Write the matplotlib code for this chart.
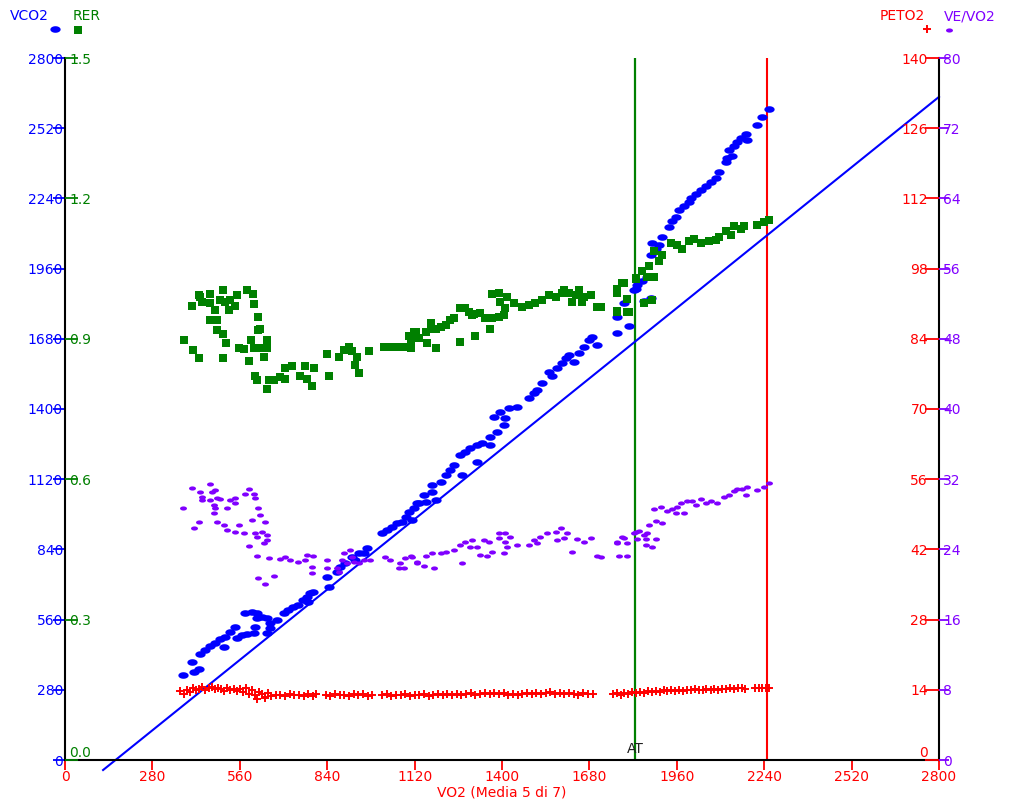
import numpy as np
import matplotlib
matplotlib.use("Agg")
import matplotlib.pyplot as plt
from matplotlib.path import Path
from matplotlib.lines import Line2D

plt.rcParams['font.family'] = ['DejaVu Sans']

# ---------------- data ----------------
vco2_x = [379, 406, 412, 428, 433, 449, 465, 481, 497, 508, 513, 529, 545, 551, 567, 577, 583, 599,
          604, 609, 615, 615, 631, 647, 647, 657, 657, 679, 700, 716, 732, 748, 764, 775, 780, 786,
          796, 839, 845, 871, 882, 898, 919, 930, 941, 957, 967, 1016, 1032, 1048, 1064, 1080, 1091,
          1101, 1112, 1117, 1128, 1133, 1149, 1155, 1176, 1176, 1187, 1203, 1219, 1235, 1245, 1267,
          1272, 1283, 1299, 1320, 1320, 1336, 1363, 1363, 1374, 1384, 1395, 1406, 1411, 1422, 1449,
          1486, 1502, 1513, 1529, 1550, 1561, 1577, 1593, 1604, 1614, 1630, 1646, 1662, 1678, 1689,
          1705, 1769, 1769, 1791, 1807, 1823, 1828, 1834, 1850, 1855, 1866, 1876, 1876, 1882, 1892,
          1903, 1914, 1935, 1946, 1956, 1967, 1983, 1999, 2005, 2021, 2037, 2053, 2069, 2085, 2096,
          2117, 2122, 2127, 2138, 2143, 2154, 2165, 2181, 2186, 2218, 2234, 2254]
vco2_y = [339, 392, 352, 363, 423, 439, 455, 468, 481, 452, 492, 512, 532, 485, 499, 585, 503, 592,
          505, 532, 585, 565, 572, 565, 505, 545, 525, 558, 585, 598, 609, 618, 638, 652, 632, 665,
          672, 731, 689, 751, 771, 784, 811, 798, 824, 824, 844, 904, 917, 931, 944, 951, 971,
          990, 957, 1004, 1024, 1024, 1057, 1030, 1070, 1097, 1037, 1110, 1137, 1157, 1177, 1217,
          1137, 1230, 1243, 1256, 1190, 1263, 1256, 1290, 1369, 1310, 1389, 1336, 1363, 1403, 1409,
          1443, 1462, 1476, 1502, 1549, 1532, 1562, 1582, 1602, 1615, 1589, 1622, 1649, 1675, 1688,
          1655, 1702, 1765, 1822, 1733, 1875, 1878, 1894, 1910, 1830, 1926, 1841, 2015, 2063, 2039,
          2055, 2087, 2127, 2151, 2167, 2192, 2208, 2224, 2240, 2256, 2272, 2288, 2304, 2320, 2344,
          2385, 2401, 2433, 2409, 2449, 2465, 2481, 2497, 2473, 2532, 2565, 2597]

rer_x = [382, 406, 409, 428, 428, 433, 438, 465, 465, 465, 481, 486, 486, 497, 505, 505, 505, 513,
         516, 524, 529, 545, 551, 556, 572, 583, 588, 597, 602, 604, 607, 609, 615, 617, 617, 620,
         626, 636, 647, 647, 647, 652, 668, 690, 706, 706, 727, 754, 770, 775, 791, 797, 839, 845,
         877, 893, 909, 919, 930, 935, 941, 973, 1021, 1042, 1064, 1090, 1101, 1107, 1107, 1117,
         1123, 1133, 1155, 1160, 1171, 1171, 1187, 1187, 1203, 1219, 1235, 1245, 1267, 1267, 1283,
         1294, 1304, 1310, 1313, 1331, 1347, 1363, 1368, 1368, 1390, 1390, 1395, 1406, 1411, 1417,
         1438, 1465, 1486, 1507, 1529, 1550, 1572, 1593, 1598, 1614, 1625, 1636, 1646, 1657, 1662,
         1684, 1705, 1716, 1769, 1769, 1769, 1769, 1785, 1791, 1801, 1801, 1801, 1807, 1828, 1828,
         1850, 1855, 1866, 1871, 1882, 1887, 1887, 1903, 1914, 1940, 1962, 1978, 1999, 2015, 2037,
         2063, 2085, 2096, 2117, 2133, 2143, 2165, 2176, 2218, 2240, 2256]
rer_y = [0.897, 0.970, 0.876, 0.994, 0.858, 0.990, 0.979, 0.996, 0.976, 0.940, 0.962, 0.940, 0.919,
         0.983, 1.004, 0.910, 0.860, 0.979, 0.892, 0.962, 0.983, 0.970, 0.994, 0.880, 0.878, 1.004,
         0.853, 0.897, 0.995, 0.880, 0.974, 0.821, 0.811, 0.947, 0.919, 0.880, 0.922, 0.862, 0.897,
         0.880, 0.793, 0.812, 0.812, 0.819, 0.837, 0.815, 0.841, 0.821, 0.841, 0.815, 0.799, 0.837,
         0.868, 0.821, 0.862, 0.876, 0.883, 0.873, 0.844, 0.862, 0.826, 0.875, 0.882, 0.883, 0.883,
         0.882, 0.905, 0.897, 0.880, 0.915, 0.915, 0.901, 0.915, 0.890, 0.922, 0.933, 0.922, 0.880,
         0.925, 0.930, 0.940, 0.944, 0.965, 0.894, 0.965, 0.958, 0.951, 0.954, 0.906, 0.956, 0.944,
         0.922, 0.944, 0.996, 0.997, 0.947, 0.979, 0.951, 0.965, 0.990, 0.976, 0.969, 0.972, 0.976,
         0.983, 0.994, 0.990, 0.997, 1.004, 0.997, 0.979, 0.994, 1.004, 0.979, 0.990, 0.994, 0.967,
         0.967, 0.997, 1.006, 0.959, 0.958, 1.019, 1.019, 0.986, 0.984, 0.957, 0.958, 1.029, 1.027,
         1.045, 0.976, 1.032, 1.056, 0.983, 1.032, 1.088, 1.066, 1.079, 1.105, 1.101, 1.092, 1.109,
         1.114, 1.105, 1.109, 1.112, 1.118, 1.131, 1.122, 1.140, 1.135, 1.140, 1.144, 1.150, 1.153]

peto2_x = [369, 380, 392, 400, 410, 420, 430, 440, 450, 460, 470, 480, 490, 500, 510, 520, 530, 540,
           550, 560, 570, 580, 590, 600, 610, 615, 620, 630, 640, 640, 650, 660, 675, 690, 705, 720,
           735, 750, 765, 780, 795, 805, 835, 850, 865, 880, 895, 910, 925, 940, 955, 970, 982,
           1015, 1030, 1045, 1060, 1075, 1090, 1105, 1120, 1135, 1150, 1165, 1180, 1195, 1210, 1225,
           1240, 1255, 1270, 1285, 1300, 1315, 1330, 1345, 1360, 1375, 1390, 1405, 1420, 1435, 1450,
           1465, 1480, 1495, 1510, 1525, 1540, 1555, 1570, 1585, 1600, 1615, 1630, 1645, 1660, 1675,
           1690, 1755, 1768, 1780, 1792, 1805, 1818, 1830, 1843, 1855, 1868, 1880, 1893, 1905, 1918,
           1930, 1943, 1955, 1968, 1980, 1993, 2005, 2018, 2030, 2043, 2055, 2068, 2080, 2093, 2105,
           2118, 2130, 2143, 2155, 2168, 2180, 2210, 2222, 2234, 2245, 2256]
peto2_y = [13.8, 13.2, 14.0, 13.6, 14.4, 13.9, 14.2, 14.5, 14.0, 14.3, 14.6, 14.1, 14.4, 14.2, 13.8,
           14.3, 14.0, 14.1, 13.7, 14.2, 13.5, 14.4, 13.2, 13.9, 12.9, 12.1, 13.6, 13.1, 12.5, 12.3,
           13.3, 12.8, 12.9, 13.0, 12.8, 13.1, 12.9, 13.0, 12.7, 13.1, 12.8, 13.2, 12.9, 12.8, 13.1,
           12.9, 13.0, 12.7, 13.1, 12.9, 13.2, 12.8, 13.0, 12.9, 13.1, 12.8, 13.0, 12.9, 13.1, 12.8,
           13.0, 12.9, 13.1, 12.8, 13.0, 13.2, 12.9, 13.1, 13.0, 13.2, 12.9, 13.1, 13.3, 13.0, 13.2,
           13.4, 13.1, 13.3, 13.2, 13.4, 13.0, 13.2, 13.0, 13.1, 13.3, 13.1, 13.4, 13.2, 13.3, 13.5,
           13.2, 13.4, 13.1, 13.3, 13.2, 13.0, 13.3, 13.1, 13.2, 13.1, 13.3, 13.0, 13.4, 13.2, 13.5,
           13.3, 13.6, 13.4, 13.7, 13.5, 13.8, 13.6, 13.9, 13.7, 13.9, 13.8, 14.0, 13.8, 14.0, 13.9,
           14.1, 13.9, 14.0, 14.1, 13.9, 14.2, 14.0, 14.2, 14.1, 14.3, 14.2, 14.4, 14.3, 14.2, 14.3,
           14.4, 14.3, 14.4, 14.4]

vevo2_x = [379, 406, 412, 428, 433, 438, 438, 463, 465, 470, 476, 476, 481, 481, 486, 486, 497, 508,
           519, 519, 529, 545, 545, 545, 556, 572, 577, 590, 591, 599, 604, 609, 609, 615, 615, 617,
           617, 625, 631, 636, 641, 641, 647, 647, 655, 668, 690, 706, 722, 748, 770, 775, 791, 791,
           796, 839, 839, 871, 877, 887, 893, 903, 914, 919, 925, 941, 957, 978, 1026, 1042, 1069,
           1074, 1085, 1090, 1107, 1112, 1128, 1128, 1149, 1155, 1176, 1181, 1203, 1219, 1245, 1267,
           1272, 1283, 1299, 1304, 1320, 1331, 1342, 1352, 1358, 1368, 1390, 1390, 1406, 1411, 1411,
           1417, 1427, 1449, 1486, 1502, 1513, 1523, 1545, 1572, 1577, 1588, 1598, 1609, 1625, 1641,
           1662, 1684, 1705, 1716, 1769, 1769, 1775, 1785, 1791, 1801, 1801, 1823, 1828, 1834, 1839,
           1855, 1860, 1860, 1866, 1871, 1882, 1887, 1892, 1892, 1908, 1914, 1930, 1946, 1956, 1962,
           1972, 1983, 1994, 2010, 2021, 2037, 2053, 2069, 2090, 2111, 2127, 2143, 2154, 2170, 2181,
           2186, 2218, 2240, 2256]
vevo2_y = [28.68, 30.96, 26.40, 27.16, 30.58, 30.01, 29.63, 31.45, 29.63, 30.58, 29.06, 28.18, 30.77,
           28.68, 29.82, 27.16, 29.70, 26.78, 28.68, 26.21, 29.63, 29.82, 29.25, 26.02, 26.78, 25.83,
           30.31, 24.38, 30.84, 27.35, 30.31, 29.82, 25.83, 25.45, 23.24, 28.68, 20.70, 27.92, 26.02,
           24.69, 27.16, 20.05, 25.64, 25.07, 22.98, 20.97, 22.87, 23.17, 22.79, 22.60, 22.79, 23.36,
           22.03, 21.35, 23.24, 22.79, 21.84, 21.84, 21.46, 22.79, 23.55, 22.41, 23.93, 23.17, 22.60,
           22.41, 22.79, 22.79, 23.17, 22.79, 21.92, 22.41, 21.84, 22.98, 23.24, 23.17, 22.41, 22.60,
           22.11, 23.24, 23.55, 21.84, 23.55, 23.74, 23.93, 24.50, 22.49, 24.88, 24.31, 25.07, 24.31,
           23.36, 25.07, 23.24, 24.88, 23.74, 25.26, 25.83, 23.55, 25.83, 24.88, 24.31, 25.45, 24.50,
           24.50, 25.07, 24.69, 25.45, 25.83, 26.02, 25.07, 26.40, 25.26, 25.83, 23.74, 25.15, 24.88,
           25.26, 23.24, 23.10, 24.88, 24.71, 23.24, 25.45, 25.30, 24.71, 23.24, 25.86, 26.02, 25.17,
           26.08, 25.62, 25.17, 24.48, 25.86, 26.77, 24.25, 28.61, 25.17, 27.23, 28.84, 27.00, 28.38,
           28.61, 28.15, 28.84, 29.30, 28.15, 29.53, 29.53, 29.07, 29.76, 29.30, 29.53, 29.30, 29.99,
           30.22, 30.68, 30.91, 30.91, 30.22, 31.14, 30.82, 31.14, 31.60]

ref_x = [122, 2800]
ref_y = [-40, 2645]

at_vo2 = 1826
end_vo2 = 2250

x_ticks = list(range(0, 2801, 280))
vco2_ticks = list(range(0, 2801, 280))
rer_ticks = [0.0, 0.3, 0.6, 0.9, 1.2, 1.5]
rer_labels = ['0.0', '0.3', '0.6', '0.9', '1.2', '1.5']
peto2_ticks = list(range(0, 141, 14))
vevo2_ticks = list(range(0, 81, 8))

# ---------------- style ----------------
BLUE = '#0000ff'
GREEN = '#008000'
RED = '#ff0000'
PURPLE = '#8000ff'
FS = 10
MS_BLUE, MS_GREEN, MS_RED, MS_PURPLE = 7.4, 5.6, 6.2, 5.0

theta = np.linspace(0, 2 * np.pi, 41)
ell_big = Path(np.column_stack([np.cos(theta), 0.64 * np.sin(theta)]))
ell_small = Path(np.column_stack([np.cos(theta), 0.6 * np.sin(theta)]))

W, H = 1015, 807
fig = plt.figure(figsize=(W / 100, H / 100), dpi=100)
x0, x1, y0, y1 = 65, 939, 58, 760
pos = [x0 / W, (H - y1) / H, (x1 - x0) / W, (y1 - y0) / H]

ax = fig.add_axes(pos)
ax.set_xlim(0, 2800)
ax.set_ylim(0, 2800)
ax.spines['top'].set_visible(False)
for s in ['left', 'bottom', 'right']:
    ax.spines[s].set_color('black')
    ax.spines[s].set_linewidth(1.5)

ax.set_xticks(x_ticks)
ax.set_xticklabels([str(v) for v in x_ticks])
ax.tick_params(axis='x', direction='out', length=7.2, width=1.3, color=RED,
               labelcolor=RED, labelsize=FS, pad=0)
ax.set_yticks(vco2_ticks)
ax.set_yticklabels([str(v) for v in vco2_ticks])
ax.tick_params(axis='y', direction='out', length=9, width=1.3, color=BLUE,
               labelcolor=BLUE, labelsize=FS, pad=-7.5)
ax.set_xlabel('VO2 (Media 5 di 7)', color=RED, fontsize=FS, labelpad=1)

# vertical markers
ax.axvline(at_vo2, color=GREEN, lw=1.6, zorder=1)
ax.axvline(end_vo2, color=RED, lw=1.5, zorder=1)
ax.annotate('AT', xy=(at_vo2, 0), xytext=(0, 3), textcoords='offset points',
            ha='center', va='bottom', fontsize=FS, color='#202020')

# reference line and VCO2
ax.plot(ref_x, ref_y, color=BLUE, lw=1.5, clip_on=False, zorder=2)
ax.plot(vco2_x, vco2_y, ls='none', marker=ell_big, ms=MS_BLUE, mew=0,
        color=BLUE, zorder=3)

# RER axis
ax_rer = fig.add_axes(pos, frameon=False)
ax_rer.patch.set_visible(False)
ax_rer.set_xlim(0, 2800)
ax_rer.set_ylim(0, 1.5)
ax_rer.xaxis.set_visible(False)
ax_rer.set_yticks(rer_ticks)
ax_rer.set_yticklabels(rer_labels)
ax_rer.tick_params(axis='y', direction='in', length=9, width=1.3, color=GREEN,
                   labelcolor=GREEN, labelsize=FS, pad=-3)
for lab in ax_rer.get_yticklabels():
    lab.set_horizontalalignment('left')
ax_rer.get_yticklabels()[0].set_verticalalignment('bottom')
ax_rer.plot(rer_x, rer_y, ls='none', marker='s', ms=MS_GREEN, mew=0, color=GREEN)

# PETO2 axis
ax_pet = fig.add_axes(pos, frameon=False)
ax_pet.patch.set_visible(False)
ax_pet.set_xlim(0, 2800)
ax_pet.set_ylim(0, 140)
ax_pet.xaxis.set_visible(False)
ax_pet.yaxis.tick_right()
ax_pet.set_yticks(peto2_ticks)
ax_pet.set_yticklabels([str(v) for v in peto2_ticks])
ax_pet.tick_params(axis='y', direction='in', length=10, width=1.3, color=RED,
                   labelcolor=RED, labelsize=FS, pad=-8)
for t in ax_pet.yaxis.get_major_ticks():
    t.label2.set_horizontalalignment('right')
ax_pet.yaxis.get_major_ticks()[0].label2.set_verticalalignment('bottom')
ax_pet.plot(peto2_x, peto2_y, ls='none', marker='+', ms=MS_RED, mew=1.4, color=RED)

# VE/VO2 axis
ax_ve = fig.add_axes(pos, frameon=False)
ax_ve.patch.set_visible(False)
ax_ve.set_xlim(0, 2800)
ax_ve.set_ylim(0, 80)
ax_ve.xaxis.set_visible(False)
ax_ve.yaxis.tick_right()
ax_ve.set_yticks(vevo2_ticks)
ax_ve.set_yticklabels([str(v) for v in vevo2_ticks])
ax_ve.tick_params(axis='y', direction='out', length=7.5, width=1.3, color=PURPLE,
                  labelcolor=PURPLE, labelsize=FS, pad=-4.5)
ax_ve.plot(vevo2_x, vevo2_y, ls='none', marker=ell_small, ms=MS_PURPLE, mew=0, color=PURPLE)

# header legends
def fx(px):
    return px / W

def fy(py):
    return 1 - py / H

fig.text(fx(10), fy(16), 'VCO2', color=BLUE, fontsize=FS, ha='left', va='center')
fig.text(fx(73), fy(16), 'RER', color=GREEN, fontsize=FS, ha='left', va='center')
fig.text(fx(925), fy(16), 'PETO2', color=RED, fontsize=FS, ha='right', va='center')
fig.text(fx(944), fy(16), 'VE/VO2', color=PURPLE, fontsize=FS, ha='left', va='center')
fig.add_artist(Line2D([fx(55)], [fy(29)], transform=fig.transFigure, ls='none',
                      marker=ell_big, ms=MS_BLUE, mew=0, color=BLUE))
fig.add_artist(Line2D([fx(78)], [fy(30)], transform=fig.transFigure, ls='none',
                      marker='s', ms=MS_GREEN, mew=0, color=GREEN))
fig.add_artist(Line2D([fx(927)], [fy(29)], transform=fig.transFigure, ls='none',
                      marker='+', ms=MS_RED, mew=1.4, color=RED))
fig.add_artist(Line2D([fx(949)], [fy(30)], transform=fig.transFigure, ls='none',
                      marker=ell_small, ms=MS_PURPLE, mew=0, color=PURPLE))

fig.savefig('out.png', dpi=100)
